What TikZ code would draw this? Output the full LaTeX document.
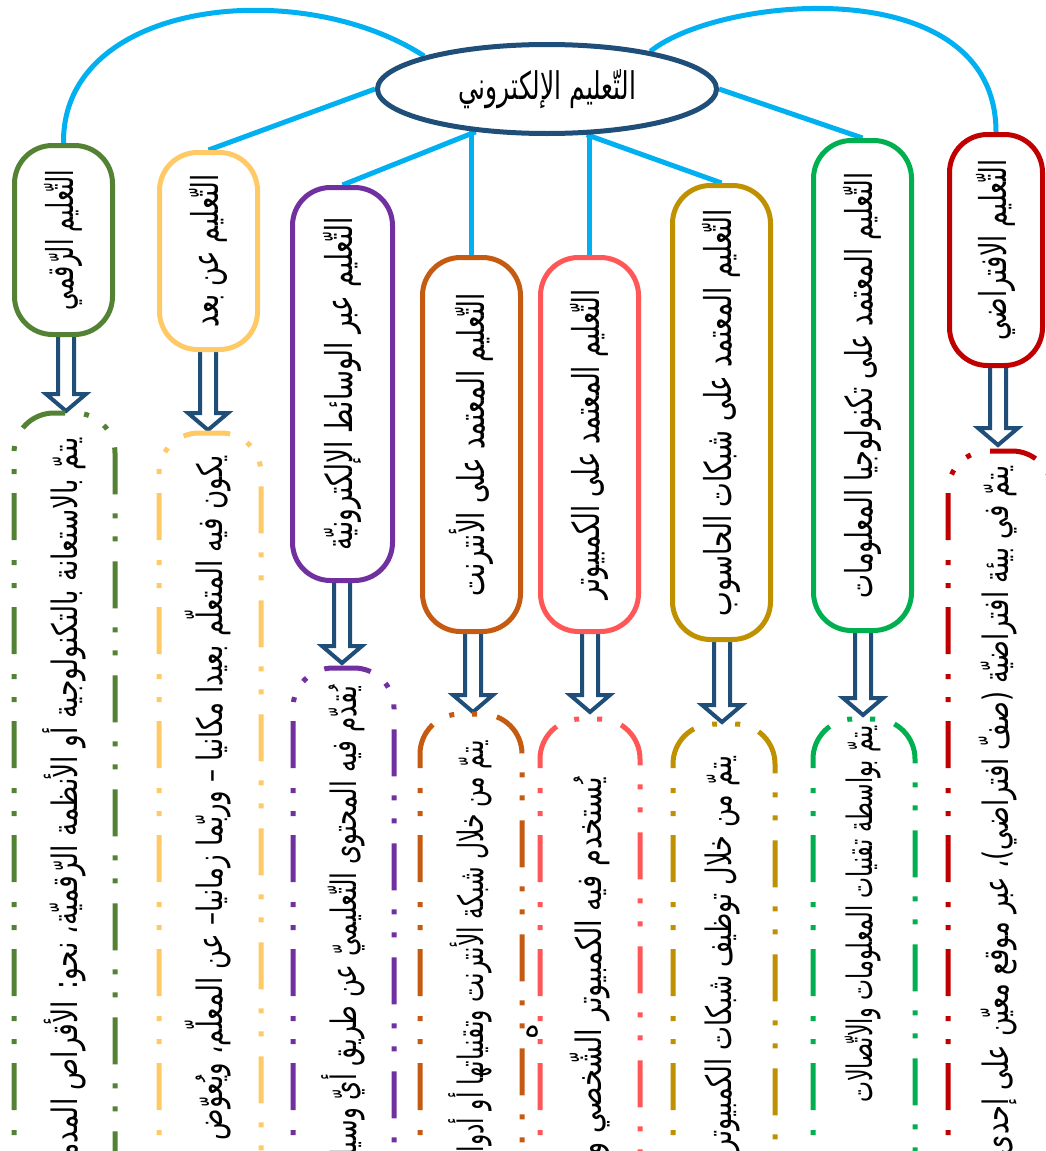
\documentclass[tikz,border=0pt]{standalone}
\usepackage{fontspec}
\usepackage{graphicx}
\usetikzlibrary{shapes.geometric,calc,backgrounds}
\newfontfamily\arabicfont[Script=Arabic]{DejaVu Sans}
\TeXXeTstate=1
\definecolor{dblue}{HTML}{1F4E79}
\definecolor{cyanl}{HTML}{00B0F0}
\definecolor{olivec}{HTML}{548235}
\definecolor{yellowc}{HTML}{FFC966}
\definecolor{purplec}{HTML}{7030A0}
\definecolor{orangec}{HTML}{C55A11}
\definecolor{salmonc}{HTML}{FF5757}
\definecolor{goldc}{HTML}{BF9000}
\definecolor{greenc}{HTML}{00B050}
\definecolor{dredc}{HTML}{C00000}
\newsavebox\pfxbox
\newcommand\artxt[1]{{\arabicfont\beginR #1\endR}}
\newcommand\fitlen[2]{\resizebox{#1}{\height}{\arabicfont\beginR #2\endR}}
\newcommand\fitpre[3]{\sbox\pfxbox{\arabicfont\beginR #2\endR}\pgfmathsetmacro\myscl{#1/\the\wd\pfxbox}\scalebox{\myscl}[1]{\arabicfont\beginR #2 #3\endR}}
\newcommand\blockarrow[2]{% title node, tip coordinate
  \draw[barrow] ($(#2 |- #1.south)+(-8,-12)$) -- ($(#2)+(-8,-17)$) -- ($(#2)+(-20,-17)$) -- (#2) -- ($(#2)+(20,-17)$) -- ($(#2)+(8,-17)$) -- ($(#2 |- #1.south)+(8,-12)$) -- cycle;}
\tikzset{
  conn/.style={draw=cyanl, line width=5pt},
  tbox/.style={draw=#1, line width=5pt, rounded corners=38pt, fill=white, inner sep=0pt, font=\fontsize{37}{41}\selectfont},
  dbox/.style={draw=#1, line width=5pt, rounded corners=40pt, dash pattern=on 47pt off 19pt on 5pt off 18pt on 5pt off 20pt, dash phase=24pt},
  dtext/.style={rotate=90, anchor=east, inner sep=0pt, font=\fontsize{35}{39}\selectfont},
  barrow/.style={draw=dblue, fill=white, line width=4pt, line join=miter},
}
\begin{document}
\begin{tikzpicture}[x=1pt, y=-1pt]
\useasboundingbox (0,0) rectangle (1046,1151);
\clip (0,0) rectangle (1046,1151);
% central node
\node[ellipse, draw=dblue, line width=5pt, fill=white, minimum width=339pt, minimum height=89pt, inner sep=0pt, font=\fontsize{38}{42}\selectfont] (main) at (547,89) {\fitlen{178pt}{التّعليم الإلكتروني}};
% title boxes
\node[tbox=olivec, minimum width=98pt, minimum height=189pt] (t1) at (63.5,240) {\rotatebox{90}{\fitlen{140pt}{التّعليم الرّقمي}}};
\node[tbox=yellowc, minimum width=98pt, minimum height=197pt] (t2) at (208.5,251) {\rotatebox{90}{\fitlen{153pt}{التّعليم عن بعد}}};
\node[tbox=purplec, minimum width=100pt, minimum height=393pt] (t3) at (342.5,384) {\rotatebox{90}{\fitlen{333pt}{التّعليم عبر الوسائط الإلكترونيّة}}};
\node[tbox=orangec, minimum width=98pt, minimum height=374pt] (t4) at (471.5,444.5) {\rotatebox{90}{\fitlen{303pt}{التّعليم المعتمد على الأنترنت}}};
\node[tbox=salmonc, minimum width=98pt, minimum height=374pt] (t5) at (589.5,444.5) {\rotatebox{90}{\fitlen{310pt}{التّعليم المعتمد على الكمبيوتر}}};
\node[tbox=goldc, minimum width=98pt, minimum height=454pt] (t6) at (721.5,412.5) {\rotatebox{90}{\fitlen{407pt}{التّعليم المعتمد على شبكات الحاسوب}}};
\node[tbox=greenc, minimum width=98pt, minimum height=490pt] (t7) at (862.5,385.5) {\rotatebox{90}{\fitlen{426pt}{التّعليم المعتمد على تكنولوجيا المعلومات}}};
\node[tbox=dredc, minimum width=93pt, minimum height=231pt] (t8) at (996,250) {\rotatebox{90}{\fitlen{181pt}{التّعليم الافتراضي}}};
% description frames
\draw[dbox=olivec] (14,1200) -- (14,413) -- (115,413) -- (115,1200);
\draw[dbox=yellowc] (159,1200) -- (159,433) -- (261,433) -- (261,1200);
\draw[dbox=purplec] (293,1200) -- (293,668) -- (394,668) -- (394,1200);
\draw[dbox=orangec] (420,1200) -- (420,714) -- (522,714) -- (522,1200);
\draw[dbox=salmonc] (540,1200) -- (540,719) -- (640,719) -- (640,1200);
\draw[dbox=goldc] (673,1200) -- (673,724) -- (775,724) -- (775,1200);
\draw[dbox=greenc] (813,1200) -- (813,719) -- (915,719) -- (915,1200);
\draw[dbox=dredc] (948,1200) -- (948,451) -- (1052,451) -- (1052,1200);
\coordinate (a1) at (66,411);
\coordinate (a2) at (208,430);
\coordinate (a3) at (342,663);
\coordinate (a4) at (473,712);
\coordinate (a5) at (590,712);
\coordinate (a6) at (722,722);
\coordinate (a7) at (863,715);
\coordinate (a8) at (998,445);
% description texts
\node[dtext] (x1) at (64,437) {\fitpre{653}{يتمّ بالاستعانة بالتكنولوجية أو الأنظمة الرّقميّة، نحو: الأقراص}{المدمجة}};
\node[dtext] (x2) at (208,455) {\fitlen{685pt}{يكون فيه المتعلّم بعيدا مكانيا – وربّما زمانيا– عن المعلّم، ويُعوّض}};
\node[dtext] (x3) at (343,685) {\fitpre{415}{يُقدّم فيه المحتوى التّعليميّ عن طريق أيّ}{وسيلة}};
\node[dtext] (x4) at (470,740) {\fitpre{370}{يتمّ من خلال شبكة الأنترنت وتقنياتها أو}{أدوات}};
\node[dtext] (x5) at (590,777) {\fitpre{356}{يُستخدم فيه الكمبيوتر الشّخصي}{و}};
\node[dtext] (x6) at (722,755) {\fitpre{295}{يتمّ من خلال توظيف شبكات}{الكمبيوتر}};
\node[dtext] (x7) at (863,725) {\fitpre{275}{يتمّ بواسطة تقنيات المعلومات}{والاتّصالات}};
\node[dtext] (x8) at (998,465) {\fitpre{625}{يتمّ في بيئة افتراضيّة (صفّ افتراضي)، عبر موقع معيّن على}{إحدى}};
\node[rotate=90, inner sep=0pt, font=\fontsize{30}{34}\selectfont] (stray) at (533,1032) {\artxt{ه}};
% connectors and arrows behind
\begin{pgfonlayer}{background}
\draw[conn] (t1.north) .. controls (62,0) and (300,-25) .. (main.165);
\draw[conn] (main.20) .. controls (720,-5) and (996,-30) .. (t8.north);
\draw[conn] (main.west) -- (t2.north);
\draw[conn] (main.211) -- (t3.north);
\draw[conn] (t4.north) -- (t4.north |- main.center);
\draw[conn] (t5.north) -- (t5.north |- main.center);
\draw[conn] (main.-49) -- (t6.north);
\draw[conn] (main.east) -- (t7.north);
\blockarrow{t1}{a1}
\blockarrow{t2}{a2}
\blockarrow{t3}{a3}
\blockarrow{t4}{a4}
\blockarrow{t5}{a5}
\blockarrow{t6}{a6}
\blockarrow{t7}{a7}
\blockarrow{t8}{a8}
\end{pgfonlayer}
\end{tikzpicture}
\end{document}
